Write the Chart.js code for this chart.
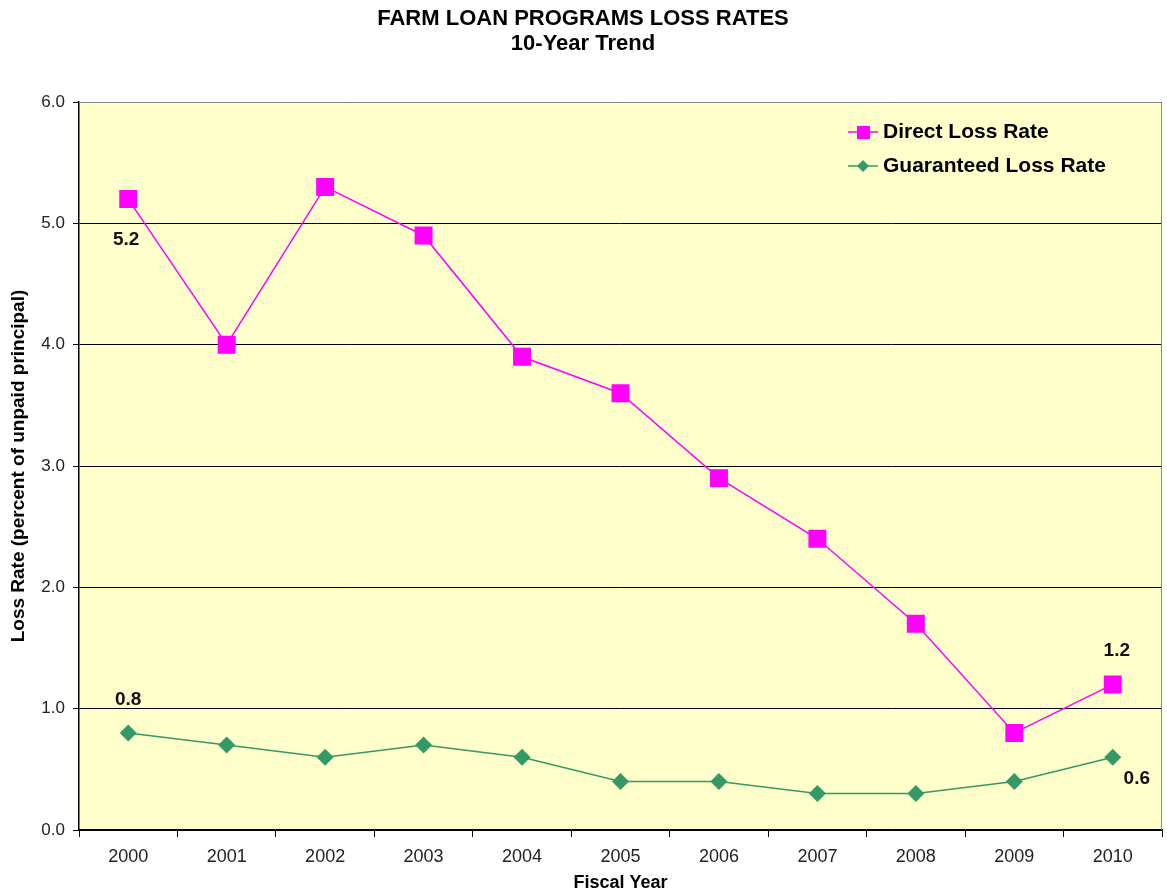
<!DOCTYPE html>
<html>
<head>
<meta charset="utf-8">
<script src="https://cdn.jsdelivr.net/npm/chart.js@4.4.0/dist/chart.umd.min.js"></script>
<style>
  body { margin: 0; background: #fff; }
  #wrap { width: 1167px; height: 894px; }
</style>
</head>
<body>
<div id="wrap"><canvas id="myChart" width="1167" height="894"></canvas></div>
<script>
  // data
  var years = ["2000", "2001", "2002", "2003", "2004", "2005", "2006", "2007", "2008", "2009", "2010"];
  var directRate = [5.2, 4.0, 5.3, 4.9, 3.9, 3.6, 2.9, 2.4, 1.7, 0.8, 1.2];
  var guaranteedRate = [0.8, 0.7, 0.6, 0.7, 0.6, 0.4, 0.4, 0.3, 0.3, 0.4, 0.6];
  var yTicks = [0, 1, 2, 3, 4, 5, 6];

  var font = "'Liberation Sans', Arial, sans-serif";
  var magenta = "#ff00ff";
  var green = "#339966";

  // background + frame + titles
  var decor = {
    id: "decor",
    beforeDraw: function (chart) {
      var ctx = chart.ctx, a = chart.chartArea;
      ctx.save();
      ctx.fillStyle = "#ffffcc";
      ctx.fillRect(a.left, a.top, a.right - a.left, a.bottom - a.top);
      ctx.restore();
    },
    afterDraw: function (chart) {
      var ctx = chart.ctx, a = chart.chartArea;
      ctx.save();
      ctx.strokeStyle = "#888";
      ctx.lineWidth = 1;
      ctx.beginPath();
      ctx.moveTo(a.left, a.top + 0.5);
      ctx.lineTo(a.right - 0.5, a.top + 0.5);
      ctx.lineTo(a.right - 0.5, a.bottom);
      ctx.stroke();

      ctx.fillStyle = "#000";
      ctx.textAlign = "center";
      ctx.textBaseline = "middle";
      ctx.font = "bold 22px " + font;
      ctx.fillText("FARM LOAN PROGRAMS LOSS RATES", 583, 19);
      ctx.fillText("10-Year Trend", 583, 44);

      // value labels
      ctx.font = "bold 19px " + font;
      ctx.fillStyle = "#111";
      var d = chart.getDatasetMeta(0).data;
      var g = chart.getDatasetMeta(1).data;
      ctx.fillText(directRate[0].toFixed(1), d[0].x - 2, d[0].y + 41);
      ctx.fillText(directRate[10].toFixed(1), d[10].x + 4, d[10].y - 34);
      ctx.fillText(guaranteedRate[0].toFixed(1), g[0].x, g[0].y - 33);
      ctx.fillText(guaranteedRate[10].toFixed(1), g[10].x + 24, g[10].y + 22);

      // legend
      var items = [
        { text: "Direct Loss Rate", color: magenta, y: 132, style: "square" },
        { text: "Guaranteed Loss Rate", color: green, y: 166, style: "diamond" }
      ];
      items.forEach(function (it) {
        ctx.strokeStyle = it.color;
        ctx.lineWidth = 1.5;
        ctx.beginPath();
        ctx.moveTo(848, it.y);
        ctx.lineTo(878, it.y);
        ctx.stroke();
        ctx.fillStyle = it.color;
        if (it.style === "square") {
          ctx.fillRect(857, it.y - 6, 13, 13);
        } else {
          ctx.beginPath();
          ctx.moveTo(863, it.y - 6);
          ctx.lineTo(869, it.y);
          ctx.lineTo(863, it.y + 6);
          ctx.lineTo(857, it.y);
          ctx.closePath();
          ctx.fill();
        }
        ctx.fillStyle = "#000";
        ctx.textAlign = "left";
        ctx.font = "bold 21px " + font;
        ctx.fillText(it.text, 883, it.y);
      });
      ctx.restore();
    }
  };

  var ctx = document.getElementById("myChart").getContext("2d");
  var chart = new Chart(ctx, {
    type: "line",
    data: {
      labels: years,
      datasets: [
        {
          label: "Direct Loss Rate",
          data: directRate,
          borderColor: magenta,
          backgroundColor: magenta,
          borderWidth: 1.5,
          pointStyle: "rect",
          pointRadius: 12.7,
          pointHoverRadius: 12.7,
          pointBorderWidth: 0
        },
        {
          label: "Guaranteed Loss Rate",
          data: guaranteedRate,
          borderColor: green,
          backgroundColor: green,
          borderWidth: 1.5,
          pointStyle: "rectRot",
          pointRadius: 8.5,
          pointHoverRadius: 8.5,
          pointBorderWidth: 0
        }
      ]
    },
    options: {
      responsive: false,
      animation: false,
      layout: { autoPadding: false, padding: { top: 102, right: 5, left: 0, bottom: 0 } },
      plugins: {
        legend: { display: false },
        tooltip: { enabled: false }
      },
      scales: {
        x: {
          offset: true,
          grid: { display: true, offset: true, drawOnChartArea: false, color: "#000", tickLength: 7 },
          border: { color: "#000", width: 1.5 },
          ticks: { color: "#222", font: { family: font, size: 18 }, padding: 9 },
          title: { display: true, text: "Fiscal Year", color: "#000", font: { family: font, size: 18, weight: "bold" }, padding: { top: 4, bottom: 0 } },
          afterFit: function (s) { s.height = 64; }
        },
        y: {
          min: 0,
          max: 6,
          afterBuildTicks: function (s) { s.ticks = yTicks.map(function (v) { return { value: v }; }); },
          grid: { color: "#000", lineWidth: 1, tickLength: 6 },
          border: { color: "#000", width: 1.5 },
          ticks: {
            color: "#222",
            font: { family: font, size: 17 },
            padding: 8,
            callback: function (v) { return Number(v).toFixed(1); }
          },
          title: { display: true, text: "Loss Rate (percent of unpaid principal)", color: "#000", font: { family: font, size: 19, weight: "bold" }, padding: { top: 7, bottom: 0 } },
          afterFit: function (s) { s.width = 79; }
        }
      }
    },
    plugins: [decor]
  });
</script>
</body>
</html>
